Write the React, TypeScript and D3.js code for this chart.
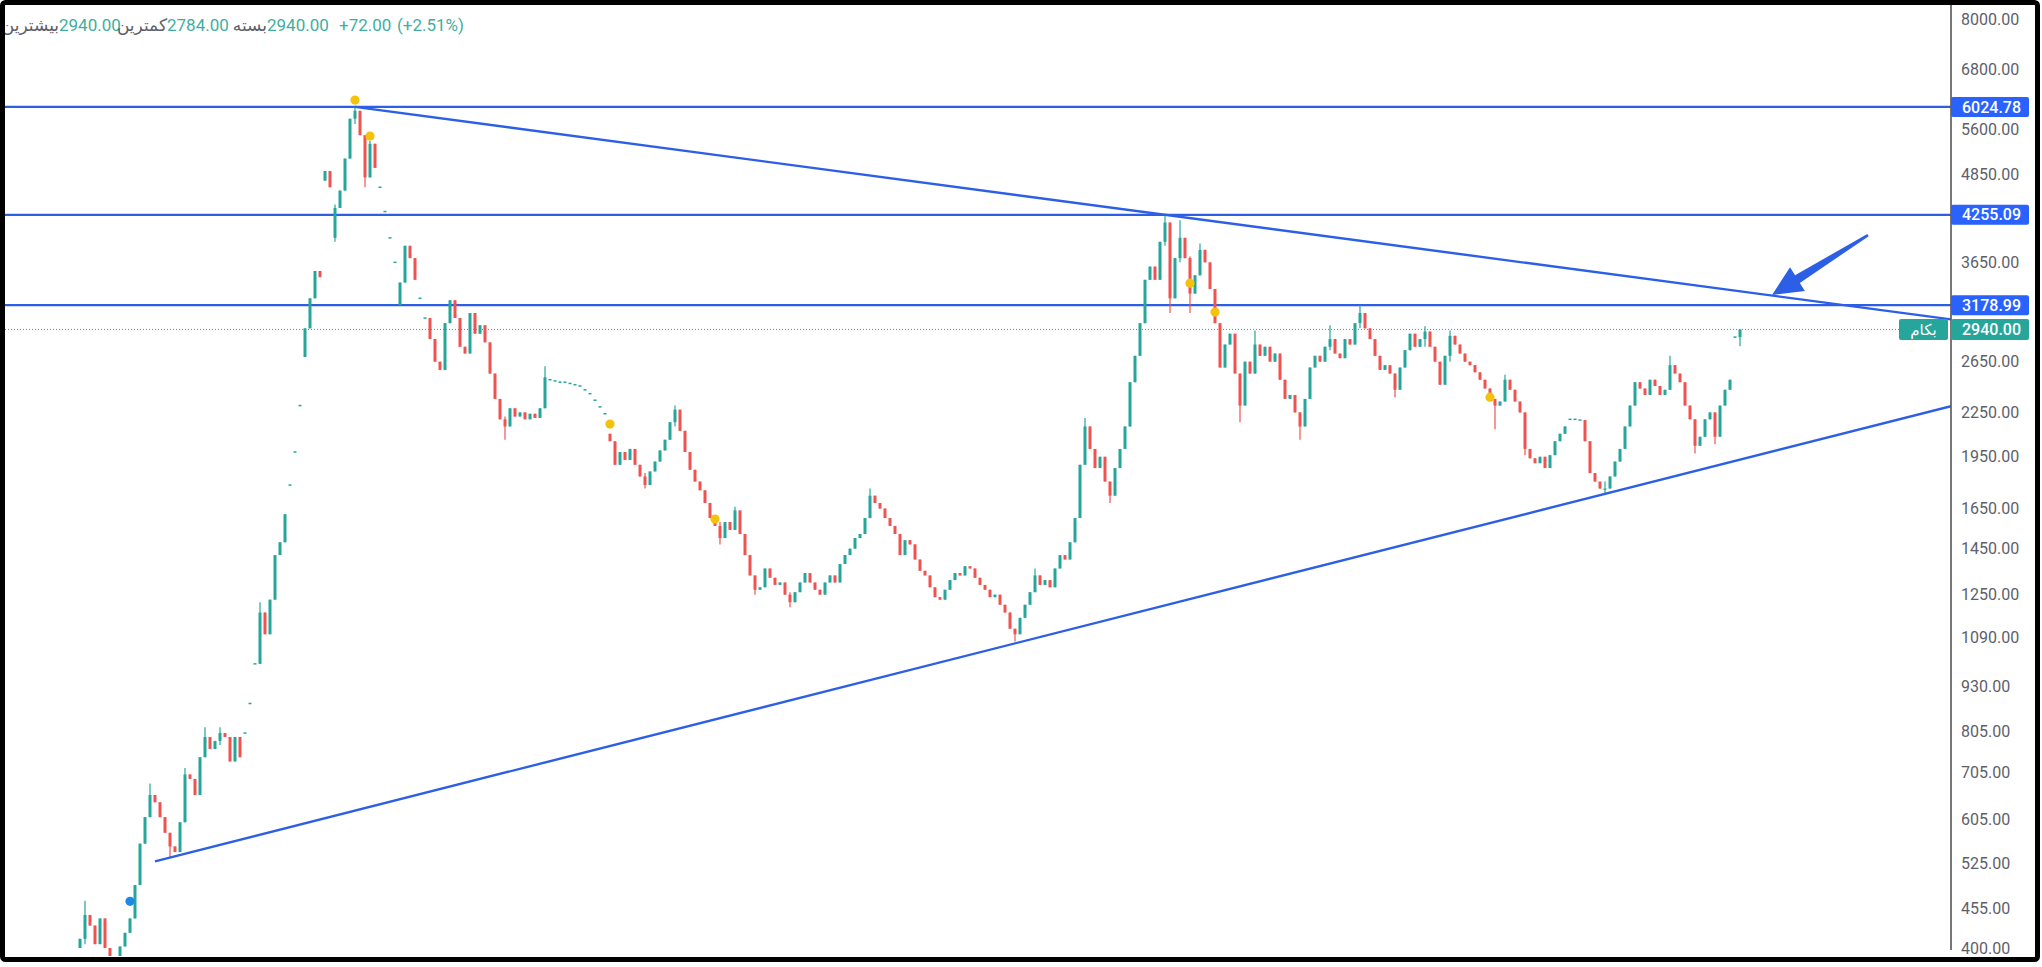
import React, { useEffect } from 'react';
import * as d3 from 'd3';

const WIDTH = 2042;
const HEIGHT = 967;
const PLOT = { left: 5, right: 1951, top: 5, bottom: 956 };
const FONT = 'Roboto, "DejaVu Sans", sans-serif';

const UP = '#26a69a';
const DOWN = '#ef5350';
const LINE_BLUE = '#2d5fe6';
const LABEL_BLUE = '#2962ff';

// Daily closes (oldest first)
const closes = [
  412, 445, 430, 405, 440, 400, 383, 386, 402, 420,
  440, 490, 560, 610, 655, 640, 610, 580, 555, 545,
  600, 700, 690, 655, 740, 790, 760, 780, 800, 790,
  730, 790, 740, 800, 880, 1000, 1180, 1100, 1230, 1420,
  1480, 1620, 1780, 1980, 2300, 2950, 3250, 3550, 3480, 4900,
  4650, 4350, 4600, 5100, 5800, 5950, 5500, 4800, 5350, 4950,
  4650, 4300, 3950, 3650, 3420, 3850, 3700, 3450, 3250, 3050,
  2850, 2650, 2580, 3000, 3230, 3050, 2780, 2720, 3100, 2900,
  2980, 2820, 2550, 2350, 2200, 2150, 2280, 2220, 2250, 2200,
  2240, 2210, 2280, 2520, 2500, 2490, 2480, 2480, 2470, 2460,
  2450, 2420, 2390, 2340, 2290, 2240, 2050, 1900, 1980, 1930,
  2000, 1900, 1830, 1780, 1860, 1920, 1990, 2060, 2180, 2270,
  2120, 1980, 1870, 1800, 1750, 1680, 1600, 1560, 1500, 1580,
  1540, 1640, 1520, 1420, 1330, 1270, 1280, 1360, 1320, 1290,
  1300, 1250, 1220, 1260, 1300, 1340, 1300, 1270, 1250, 1300,
  1330, 1300, 1380, 1420, 1450, 1500, 1520, 1600, 1720, 1680,
  1650, 1600, 1560, 1520, 1420, 1490, 1470, 1400, 1350, 1330,
  1280, 1240, 1230, 1270, 1310, 1340, 1330, 1370, 1360, 1320,
  1290, 1270, 1240, 1250, 1210, 1180, 1120, 1100, 1160, 1210,
  1260, 1330, 1290, 1310, 1280, 1360, 1420, 1400, 1480, 1600,
  1900, 2150, 2000, 1880, 1950, 1800, 1720, 1880, 2000, 2150,
  2480, 2700, 3000, 3450, 3600, 3450, 3900, 4150, 3250, 3700,
  3950, 3700, 3300, 3500, 3800, 3650, 3350, 3000, 2600, 2800,
  2900, 2550, 2300, 2650, 2550, 2800, 2700, 2780, 2650, 2720,
  2500, 2350, 2380, 2250, 2150, 2350, 2600, 2700, 2650, 2780,
  2850, 2720, 2680, 2850, 2800, 3000, 3100, 2950, 2850, 2700,
  2580, 2620, 2550, 2420, 2600, 2750, 2900, 2780, 2850, 2920,
  2780, 2650, 2460, 2700, 2880, 2800, 2720, 2650, 2620, 2560,
  2500, 2430, 2350, 2300, 2330, 2500, 2420, 2330, 2250, 2000,
  1940, 1910, 1950, 1880, 1960, 2050, 2100, 2150, 2200, 2200,
  2195, 2050, 1850, 1800, 1760, 1760, 1830, 1920, 2000, 2150,
  2300, 2480, 2430, 2380, 2500, 2450, 2380, 2420, 2620, 2550,
  2480, 2300, 2200, 2020, 2080, 2200, 2250, 2080, 2300, 2420,
  2500, 2868, 2940,
];
const firstOpen = 400;

// Runs of single-price (limit-move) days: [fromIndex, toIndex]
const flatRuns = [[33, 35], [42, 44], [60, 63], [68, 69], [94, 105], [298, 300], [331, 331]];

// Gap opens: [index, open]
const gapOpens = [[45, 2690], [49, 4750], [51, 3950], [64, 3180], [106, 2100]];

// Visible wicks: [index, high, low]
const wicks = [
  [1, 466, 405], [14, 680, 630], [18, 560, 535], [21, 715, 640], [25, 815, 760],
  [28, 815, 770], [36, 1220, 1000], [51, 4400, 3900], [55, 6024.78, 5700],
  [57, 4950, 4650], [58, 5400, 4800], [85, 2220, 2060], [93, 2610, 2280],
  [113, 1850, 1760], [119, 2300, 2150], [128, 1580, 1470], [131, 1660, 1540],
  [135, 1300, 1250], [142, 1260, 1200], [158, 1760, 1600], [187, 1120, 1075],
  [191, 1360, 1290], [201, 2210, 1900], [206, 1800, 1680], [217, 4255.09, 3850],
  [218, 3900, 3100], [220, 4180, 3650], [222, 3720, 3100], [224, 3880, 3500],
  [232, 2550, 2180], [235, 2930, 2650], [244, 2250, 2060], [250, 2980, 2750],
  [256, 3178.99, 2950], [263, 2550, 2360], [269, 2970, 2780], [274, 2930, 2650],
  [283, 2350, 2130], [285, 2540, 2330], [289, 2250, 1960], [305, 1800, 1730],
  [318, 2700, 2420], [323, 2200, 1970], [327, 2250, 2030], [332, 2940, 2784],
];

const tickValues = [8000, 6800, 5600, 4850, 3650, 2650, 2250, 1950, 1650, 1450, 1250, 1090, 930, 805, 705, 605, 525, 455, 400];
const levelLines = [6024.78, 4255.09, 3178.99];
const lastPrice = 2940;
const symbolName = 'بکام';

// Trend lines: [[index, price], [index, price]] extended to the right edge
const trendLines = [
  [[55, 6024.78], [217, 4255.09]],
  [[15, 529], [305, 1730]],
];

// Event markers: [index, price]
const yellowMarks = [[55, 6160], [58, 5485], [106, 2167], [127, 1595], [222, 3413], [227, 3109], [282, 2363]];
const blueMarks = [[10, 465]];

// Arrow annotation: tail and tip in [index, price]
const arrowTail = [357.6, 3986];
const arrowTip = [338.4, 3285];

// Header legend
const headerLabels = ['بیشترین', 'کمترین', 'بسته'];
const headerValues = [2940, 2784, 2940];
const headerChange = 72;
const headerChangePct = 2.51;

export default function App() {
  useEffect(() => {
    document.body.style.margin = '0';
  }, []);

  const x = d3.scaleLinear().domain([0, closes.length - 1]).range([80, 1740]);
  const y = d3.scaleLog().domain([400, 8000]).range([948, 19]);
  const bodyW = 3;

  const isFlat = (i: number) => flatRuns.some(([a, b]) => i >= a && i <= b);
  const gapMap = new Map(gapOpens.map(([i, o]) => [i, o]));
  const wickMap = new Map(wicks.map(([i, h, l]) => [i, [h, l]]));

  const candles = closes.map((c, i) => {
    const flat = isFlat(i);
    let o = flat ? c : gapMap.has(i) ? (gapMap.get(i) as number) : i === 0 ? firstOpen : closes[i - 1];
    let h = Math.max(o, c);
    let l = Math.min(o, c);
    const w = wickMap.get(i);
    if (w) {
      h = Math.max(h, w[0]);
      l = Math.min(l, w[1]);
    }
    return { i, o, h, l, c, flat };
  });

  const fmt = d3.format('.2f');

  const trendPaths = trendLines.map(([a, b]) => {
    const x1 = x(a[0]), y1 = y(a[1]);
    const x2 = x(b[0]), y2 = y(b[1]);
    const slope = (y2 - y1) / (x2 - x1);
    const xe = PLOT.right;
    const ye = y1 + slope * (xe - x1);
    return { x1, y1, x2: xe, y2: ye };
  });

  // arrow polygon
  const T = [x(arrowTip[0]), y(arrowTip[1])];
  const L = [x(arrowTail[0]), y(arrowTail[1])];
  const dx = T[0] - L[0], dy = T[1] - L[1];
  const len = Math.hypot(dx, dy);
  const u = [dx / len, dy / len];
  const n = [-u[1], u[0]];
  const headLen = 30, headHalf = 14, shaftHead = 4.5, shaftTail = 1.3;
  const B = [T[0] - u[0] * headLen, T[1] - u[1] * headLen];
  const arrowPts = [
    [L[0] + n[0] * shaftTail, L[1] + n[1] * shaftTail],
    [B[0] + n[0] * shaftHead, B[1] + n[1] * shaftHead],
    [B[0] + n[0] * headHalf, B[1] + n[1] * headHalf],
    T,
    [B[0] - n[0] * headHalf, B[1] - n[1] * headHalf],
    [B[0] - n[0] * shaftHead, B[1] - n[1] * shaftHead],
    [L[0] - n[0] * shaftTail, L[1] - n[1] * shaftTail],
  ];

  const gray = '#5d606b';
  const teal = '#3fae9f';

  return (
    <svg
      width={WIDTH}
      height={HEIGHT}
      style={{ position: 'absolute', left: 0, top: 0, display: 'block', background: '#fff' }}
      fontFamily={FONT}
    >
      <defs>
        <clipPath id="plotClip">
          <rect x={PLOT.left} y={PLOT.top} width={PLOT.right - PLOT.left} height={PLOT.bottom - PLOT.top} />
        </clipPath>
      </defs>
      <rect x={0} y={0} width={WIDTH} height={HEIGHT} fill="#fff" />

      <g clipPath="url(#plotClip)">
        {/* last price dotted line */}
        <line
          x1={PLOT.left}
          x2={1899}
          y1={y(lastPrice)}
          y2={y(lastPrice)}
          stroke={UP}
          strokeWidth={1}
          strokeDasharray="1 2"
        />
        {/* horizontal levels */}
        {levelLines.map((v) => (
          <line key={v} x1={PLOT.left} x2={PLOT.right} y1={y(v)} y2={y(v)} stroke={LINE_BLUE} strokeWidth={2.2} />
        ))}

        {/* candles */}
        {candles.map((d) => {
          const px = x(d.i);
          const col = d.c >= d.o ? UP : DOWN;
          if (d.flat) {
            return <rect key={d.i} x={px - bodyW / 2} y={y(d.c) - 0.75} width={bodyW} height={1.5} fill={UP} />;
          }
          const yTop = Math.min(y(d.o), y(d.c));
          const hgt = Math.max(1.2, Math.abs(y(d.o) - y(d.c)));
          return (
            <g key={d.i}>
              <line x1={px} x2={px} y1={y(d.h)} y2={y(d.l)} stroke={col} strokeWidth={1.2} />
              <rect x={px - bodyW / 2} y={yTop} width={bodyW} height={hgt} fill={col} />
            </g>
          );
        })}

        {/* trend lines */}
        {trendPaths.map((t, k) => (
          <line key={k} x1={t.x1} y1={t.y1} x2={t.x2} y2={t.y2} stroke={LINE_BLUE} strokeWidth={2.4} />
        ))}

        {/* markers */}
        {yellowMarks.map(([i, p], k) => (
          <circle key={'y' + k} cx={x(i)} cy={y(p)} r={4.6} fill="#f4c20d" />
        ))}
        {blueMarks.map(([i, p], k) => (
          <circle key={'b' + k} cx={x(i)} cy={y(p)} r={4.6} fill="#1e88e5" />
        ))}

        {/* arrow */}
        <polygon points={arrowPts.map((p) => p.join(',')).join(' ')} fill={LINE_BLUE} />
      </g>

      {/* symbol tag */}
      <rect x={1899} y={y(lastPrice) - 10.5} width={49} height={21} rx={2} fill={UP} />
      <text x={1923.5} y={y(lastPrice)} dy="0.35em" textAnchor="middle" fontSize={15} fill="#fff">
        {symbolName}
      </text>

      {/* axis */}
      <line x1={PLOT.right} x2={PLOT.right} y1={PLOT.top} y2={950} stroke="#555" strokeWidth={1.6} />
      {tickValues.map((v) => (
        <text key={v} x={1961} y={y(v)} dy="0.35em" fontSize={16} fill={gray}>
          {fmt(v)}
        </text>
      ))}
      {levelLines.map((v) => (
        <g key={'lb' + v}>
          <rect x={PLOT.right} y={y(v) - 10} width={78} height={20} rx={2} fill={LABEL_BLUE} />
          <text x={1962} y={y(v)} dy="0.35em" fontSize={16} fontWeight={500} fill="#fff">
            {fmt(v)}
          </text>
        </g>
      ))}
      <rect x={PLOT.right} y={y(lastPrice) - 10.5} width={78} height={21} rx={2} fill={UP} />
      <text x={1962} y={y(lastPrice)} dy="0.35em" fontSize={16} fontWeight={500} fill="#fff">
        {fmt(lastPrice)}
      </text>

      {/* header legend */}
      <g fontSize={17}>
        <text x={59} y={31} textAnchor="end" fill={gray}>{headerLabels[0]}</text>
        <text x={59} y={31} fill={teal}>{fmt(headerValues[0])}</text>
        <text x={167} y={31} textAnchor="end" fill={gray}>{headerLabels[1]}</text>
        <text x={167} y={31} fill={teal}>{fmt(headerValues[1])}</text>
        <text x={267} y={31} textAnchor="end" fill={gray}>{headerLabels[2]}</text>
        <text x={267} y={31} fill={teal}>{fmt(headerValues[2])}</text>
        <text x={339} y={31} fill={teal}>{'+' + fmt(headerChange)}</text>
        <text x={397} y={31} fill={teal}>{'(+' + fmt(headerChangePct) + '%)'}</text>
      </g>

      {/* frame */}
      <rect x={2.5} y={2.5} width={2035} height={957} rx={3} fill="none" stroke="#000" strokeWidth={5} />
    </svg>
  );
}
